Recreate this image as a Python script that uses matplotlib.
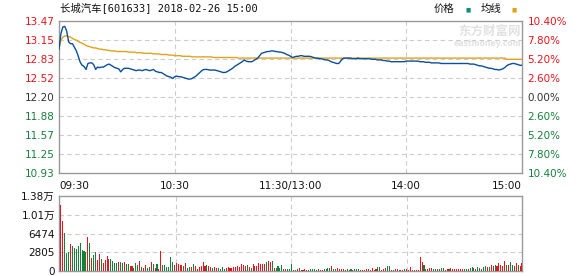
import matplotlib
matplotlib.use("Agg")
import matplotlib.pyplot as plt

plt.rcParams['font.family'] = ['DejaVu Sans', 'Noto Sans CJK SC']

# minute-by-minute price (09:30 - 11:30, 13:00 - 15:00), 241 points
price = [
    13.00, 13.26, 13.37, 13.38, 13.30, 13.12, 13.09, 13.09, 13.03, 12.97,
    12.88, 12.78, 12.73, 12.71, 12.66, 12.76, 12.77, 12.77, 12.74, 12.66,
    12.70, 12.69, 12.70, 12.70, 12.72, 12.74, 12.75, 12.73, 12.71, 12.69,
    12.68, 12.67, 12.62, 12.66, 12.68, 12.68, 12.68, 12.67, 12.66, 12.65,
    12.64, 12.65, 12.65, 12.64, 12.65, 12.66, 12.65, 12.64, 12.65, 12.66,
    12.63, 12.62, 12.61, 12.61, 12.59, 12.57, 12.55, 12.54, 12.53, 12.51,
    12.54, 12.55, 12.54, 12.54, 12.53, 12.52, 12.51, 12.50, 12.50, 12.51,
    12.53, 12.55, 12.58, 12.61, 12.64, 12.66, 12.66, 12.66, 12.65, 12.65,
    12.65, 12.65, 12.64, 12.63, 12.62, 12.61, 12.61, 12.62, 12.64, 12.66,
    12.68, 12.71, 12.73, 12.75, 12.77, 12.79, 12.82, 12.80, 12.79, 12.79,
    12.79, 12.81, 12.83, 12.85, 12.89, 12.93, 12.94, 12.95, 12.96, 12.96,
    12.97, 12.97, 12.96, 12.96, 12.95, 12.95, 12.94, 12.93, 12.91, 12.90,
    12.88, 12.86, 12.87, 12.88, 12.88, 12.89, 12.89, 12.88, 12.88, 12.88,
    12.88, 12.87, 12.86, 12.85, 12.85, 12.84, 12.84, 12.83, 12.82, 12.82,
    12.81, 12.79, 12.78, 12.77, 12.76, 12.76, 12.80, 12.84, 12.85, 12.85,
    12.85, 12.85, 12.84, 12.84, 12.84, 12.85, 12.84, 12.84, 12.84, 12.84,
    12.84, 12.84, 12.83, 12.83, 12.83, 12.82, 12.82, 12.82, 12.81, 12.81,
    12.80, 12.80, 12.79, 12.79, 12.79, 12.79, 12.79, 12.79, 12.79, 12.79,
    12.80, 12.80, 12.80, 12.80, 12.80, 12.80, 12.80, 12.79, 12.79, 12.79,
    12.78, 12.78, 12.78, 12.77, 12.77, 12.77, 12.77, 12.77, 12.76, 12.76,
    12.76, 12.76, 12.76, 12.76, 12.76, 12.76, 12.76, 12.76, 12.76, 12.76,
    12.76, 12.76, 12.76, 12.75, 12.75, 12.75, 12.74, 12.73, 12.72, 12.72,
    12.71, 12.70, 12.69, 12.68, 12.68, 12.67, 12.66, 12.66, 12.65, 12.66,
    12.67, 12.69, 12.72, 12.74, 12.75, 12.76, 12.76, 12.75, 12.74, 12.73,
    12.73,
]

avg_price = [
    13.02, 13.15, 13.20, 13.22, 13.22, 13.21, 13.20, 13.18, 13.16, 13.15,
    13.13, 13.11, 13.10, 13.08, 13.06, 13.05, 13.04, 13.03, 13.02, 13.02,
    13.01, 13.00, 13.00, 12.99, 12.99, 12.98, 12.98, 12.97, 12.97, 12.97,
    12.96, 12.96, 12.96, 12.96, 12.96, 12.96, 12.95, 12.95, 12.95, 12.95,
    12.94, 12.94, 12.94, 12.94, 12.93, 12.93, 12.93, 12.93, 12.93, 12.92,
    12.92, 12.92, 12.92, 12.91, 12.91, 12.91, 12.91, 12.90, 12.90, 12.90,
    12.89, 12.89, 12.89, 12.89, 12.88, 12.88, 12.88, 12.88, 12.88, 12.87,
    12.87, 12.87, 12.87, 12.87, 12.87, 12.87, 12.87, 12.87, 12.87, 12.87,
    12.86, 12.86, 12.86, 12.86, 12.86, 12.86, 12.86, 12.86, 12.86, 12.86,
    12.86, 12.86, 12.86, 12.85, 12.85, 12.85, 12.85, 12.85, 12.85, 12.85,
    12.85, 12.85, 12.85, 12.85, 12.85, 12.85, 12.85, 12.85, 12.85, 12.85,
    12.85, 12.85, 12.85, 12.85, 12.85, 12.85, 12.85, 12.85, 12.85, 12.85,
    12.85, 12.85, 12.85, 12.85, 12.85, 12.85, 12.85, 12.85, 12.85, 12.85,
    12.85, 12.85, 12.85, 12.85, 12.85, 12.85, 12.85, 12.85, 12.85, 12.85,
    12.85, 12.85, 12.85, 12.85, 12.85, 12.85, 12.85, 12.85, 12.85, 12.85,
    12.85, 12.85, 12.85, 12.85, 12.85, 12.85, 12.85, 12.85, 12.85, 12.85,
    12.85, 12.85, 12.85, 12.85, 12.85, 12.85, 12.85, 12.85, 12.85, 12.85,
    12.85, 12.85, 12.85, 12.85, 12.85, 12.85, 12.85, 12.85, 12.85, 12.85,
    12.85, 12.85, 12.85, 12.85, 12.85, 12.85, 12.85, 12.85, 12.85, 12.85,
    12.85, 12.85, 12.85, 12.85, 12.85, 12.85, 12.85, 12.85, 12.85, 12.85,
    12.85, 12.85, 12.85, 12.85, 12.85, 12.85, 12.85, 12.85, 12.85, 12.85,
    12.85, 12.85, 12.85, 12.85, 12.85, 12.85, 12.85, 12.85, 12.85, 12.85,
    12.85, 12.85, 12.85, 12.85, 12.85, 12.85, 12.85, 12.85, 12.85, 12.85,
    12.85, 12.85, 12.83, 12.83, 12.83, 12.83, 12.83, 12.83, 12.83, 12.83,
    12.83,
]

volume = [
    12140, 9200, 6990, 3310, 3490, 4970, 4600, 4230, 4050, 4600,
    5150, 3860, 3680, 3490, 6250, 5150, 2390, 2940, 3490, 2020,
    3130, 2210, 1470, 2020, 2760, 2210, 2210, 1840, 1470, 1470,
    1660, 1660, 1470, 1660, 1290, 1290, 920, 920, 550, 1470,
    1100, 1840, 740, 550, 1100, 550, 740, 1660, 1290, 550,
    1290, 370, 3680, 1100, 1100, 740, 740, 2570, 1660, 1100,
    1470, 1290, 1100, 1100, 920, 1470, 550, 740, 740, 1290,
    920, 370, 740, 920, 1660, 920, 1100, 920, 740, 550,
    740, 550, 550, 370, 740, 370, 550, 740, 550, 550,
    740, 740, 920, 740, 1290, 1100, 920, 1100, 740, 550,
    1290, 920, 920, 1470, 1290, 1290, 1290, 1660, 1840, 1660,
    1840, 550, 550, 920, 550, 1100, 370, 370, 370, 370,
    1290, 180, 180, 370, 550, 180, 180, 370, 180, 180,
    370, 370, 370, 180, 370, 180, 180, 370, 370, 550,
    550, 920, 370, 370, 550, 370, 370, 370, 180, 370,
    180, 370, 180, 370, 370, 370, 180, 180, 180, 370,
    370, 180, 550, 180, 370, 740, 740, 180, 370, 550,
    920, 920, 180, 180, 370, 370, 180, 180, 180, 370,
    370, 180, 740, 180, 180, 180, 180, 2570, 1660, 1100,
    370, 370, 550, 550, 370, 370, 370, 370, 550, 550,
    180, 370, 370, 550, 370, 370, 370, 370, 370, 370,
    370, 370, 370, 550, 740, 550, 370, 740, 550, 370,
    740, 920, 740, 740, 1100, 920, 1100, 920, 1470, 1100,
    920, 1840, 1100, 1100, 1660, 1100, 920, 1470, 1100, 920,
    1470,
]

# 1 = up tick (red), 0 = down tick (green)
vol_up = [
    1, 1, 0, 0, 0, 1, 0, 0, 0, 0,
    0, 0, 0, 0, 1, 0, 1, 0, 0, 1,
    1, 0, 1, 1, 1, 1, 0, 0, 0, 0,
    1, 0, 0, 1, 0, 0, 1, 1, 0, 0,
    0, 1, 0, 1, 1, 0, 0, 1, 0, 1,
    0, 1, 1, 0, 0, 0, 0, 0, 0, 1,
    1, 1, 1, 1, 0, 1, 0, 0, 1, 0,
    1, 1, 1, 1, 1, 1, 0, 1, 1, 0,
    1, 1, 0, 0, 0, 0, 1, 1, 1, 1,
    1, 1, 1, 1, 1, 1, 1, 0, 1, 0,
    1, 1, 1, 1, 1, 1, 1, 0, 1, 1,
    0, 1, 0, 0, 0, 0, 0, 1, 0, 0,
    0, 0, 1, 0, 1, 0, 1, 1, 1, 0,
    0, 0, 0, 1, 0, 1, 1, 0, 0, 0,
    0, 1, 0, 0, 1, 1, 1, 1, 0, 0,
    1, 0, 1, 0, 0, 0, 1, 1, 1, 1,
    1, 0, 1, 1, 1, 0, 0, 1, 1, 1,
    0, 0, 1, 0, 1, 1, 0, 1, 1, 0,
    1, 1, 1, 0, 1, 1, 1, 1, 1, 0,
    0, 1, 1, 1, 0, 0, 0, 1, 0, 0,
    1, 1, 1, 0, 1, 1, 1, 1, 1, 1,
    0, 0, 1, 0, 0, 0, 1, 0, 0, 1,
    0, 0, 1, 0, 1, 1, 0, 1, 1, 1,
    1, 1, 0, 1, 0, 0, 1, 1, 0, 1,
    1,
]

price_ticks = [10.93, 11.2475, 11.565, 11.8825, 12.20, 12.5175, 12.835, 13.1525, 13.47]
price_labels = ["10.93", "11.25", "11.57", "11.88", "12.20", "12.52", "12.83", "13.15", "13.47"]
pct_labels = ["10.40%", "7.80%", "5.20%", "2.60%", "0.00%", "2.60%", "5.20%", "7.80%", "10.40%"]
time_ticks = [0, 60, 120, 180, 240]
time_labels = ["09:30", "10:30", "11:30/13:00", "14:00", "15:00"]
vol_max = 13800
vol_labels = ["0", "2805", "6474", "1.01万", "1.38万"]

RED = "#e8141c"
GREEN = "#16803a"
DARK = "#333333"
FRAME = "#999999"
GRID = "#cccccc"

W, H = 578, 276
fig = plt.figure(figsize=(W / 100, H / 100), dpi=100)


def box(l, t, r, b):
    return [l / W, 1 - b / H, (r - l) / W, (b - t) / H]


ax = fig.add_axes(box(59, 21, 522, 173))
axv = fig.add_axes(box(59, 196, 522, 271))

minutes = list(range(len(price)))

# price panel
ax.plot(minutes, avg_price, color="#e3a21a", lw=1.0, zorder=3)
ax.plot(minutes, price, color="#0b4f9e", lw=1.0, zorder=4)
ax.set_xlim(0, 240)
ax.set_ylim(price_ticks[0], price_ticks[-1])
ax.set_yticks(price_ticks)
ax.set_yticklabels(price_labels)
for lab, v in zip(ax.get_yticklabels(), price_ticks):
    lab.set_color(RED if v > 12.21 else (GREEN if v < 12.19 else DARK))
ax.tick_params(axis="y", length=0, pad=3, labelsize=7.5)

axr = ax.twinx()
axr.set_ylim(price_ticks[0], price_ticks[-1])
axr.set_yticks(price_ticks)
axr.set_yticklabels(pct_labels[::-1])
for lab, v in zip(axr.get_yticklabels(), price_ticks):
    lab.set_color(RED if v > 12.21 else (GREEN if v < 12.19 else DARK))
axr.tick_params(axis="y", length=0, pad=4, labelsize=7.5)
for s in axr.spines.values():
    s.set_visible(False)

ax.set_xticks(time_ticks)
ax.set_xticklabels(time_labels)
ax.tick_params(axis="x", length=0, pad=6, labelsize=7.5, labelcolor="#111111")
xl = ax.get_xticklabels()
xl[0].set_ha("left")
xl[-1].set_ha("right")

for v in price_ticks[1:-1]:
    ax.axhline(v, color=GRID, lw=0.8, ls=(0, (4, 3)), zorder=1)
for t in time_ticks[1:-1]:
    ax.axvline(t, color=GRID, lw=0.8, ls=(0, (4, 3)), zorder=1)

# volume panel (bars start one slot in from the frame)
vol_colors = [RED if u else GREEN for u in vol_up]
axv.bar(minutes, volume, width=0.55, color=vol_colors, linewidth=0,
        antialiased=False, zorder=3)
axv.set_xlim(-1, 240)
axv.set_ylim(0, vol_max)
vticks = [0, vol_max / 4, vol_max / 2, vol_max * 3 / 4, vol_max]
axv.set_yticks(vticks)
axv.set_yticklabels(vol_labels)
axv.tick_params(axis="y", length=0, pad=3, labelsize=7.5, labelcolor="#111111")
axv.set_xticks([])
for v in vticks[1:-1]:
    axv.axhline(v, color=GRID, lw=0.8, ls=(0, (4, 3)), zorder=1)
for t in time_ticks[1:-1]:
    axv.axvline(t, color=GRID, lw=0.8, ls=(0, (4, 3)), zorder=1)

for a in (ax, axv):
    for s in a.spines.values():
        s.set_color(FRAME)
        s.set_linewidth(1.0)
    a.set_facecolor("white")

# title and legend
fig.text(60 / W, 1 - 9 / H, "长城汽车[601633] 2018-02-26 15:00",
         family=["DejaVu Sans Mono", "Noto Sans CJK SC"], fontsize=7.5,
         color="#111111", va="center", ha="left")
fig.text(434 / W, 1 - 9 / H, "价格", family=["Noto Sans CJK SC"], fontsize=7.5,
         color="#111111", va="center", ha="left")
fig.text(465 / W, 1 - 9.5 / H, "■", family=["DejaVu Sans"], fontsize=4,
         color="#0d8f7e", va="center", ha="left")
fig.text(481 / W, 1 - 9 / H, "均线", family=["Noto Sans CJK SC"], fontsize=7.5,
         color="#111111", va="center", ha="left")
fig.text(512 / W, 1 - 9.5 / H, "■", family=["DejaVu Sans"], fontsize=4,
         color="#e3a21a", va="center", ha="left")

# watermark
fig.text(521 / W, 1 - 31 / H, "东方财富网", family=["Noto Sans CJK SC"], fontsize=9,
         fontweight="bold", color="#e2e2e2", va="center", ha="right", zorder=0)
fig.text(521 / W, 1 - 43 / H, "eastmoney.com", family=["DejaVu Sans"], fontsize=5.5,
         fontweight="bold", color="#e2e2e2", va="center", ha="right", zorder=0)

fig.savefig("out.png", dpi=100, facecolor="white")
